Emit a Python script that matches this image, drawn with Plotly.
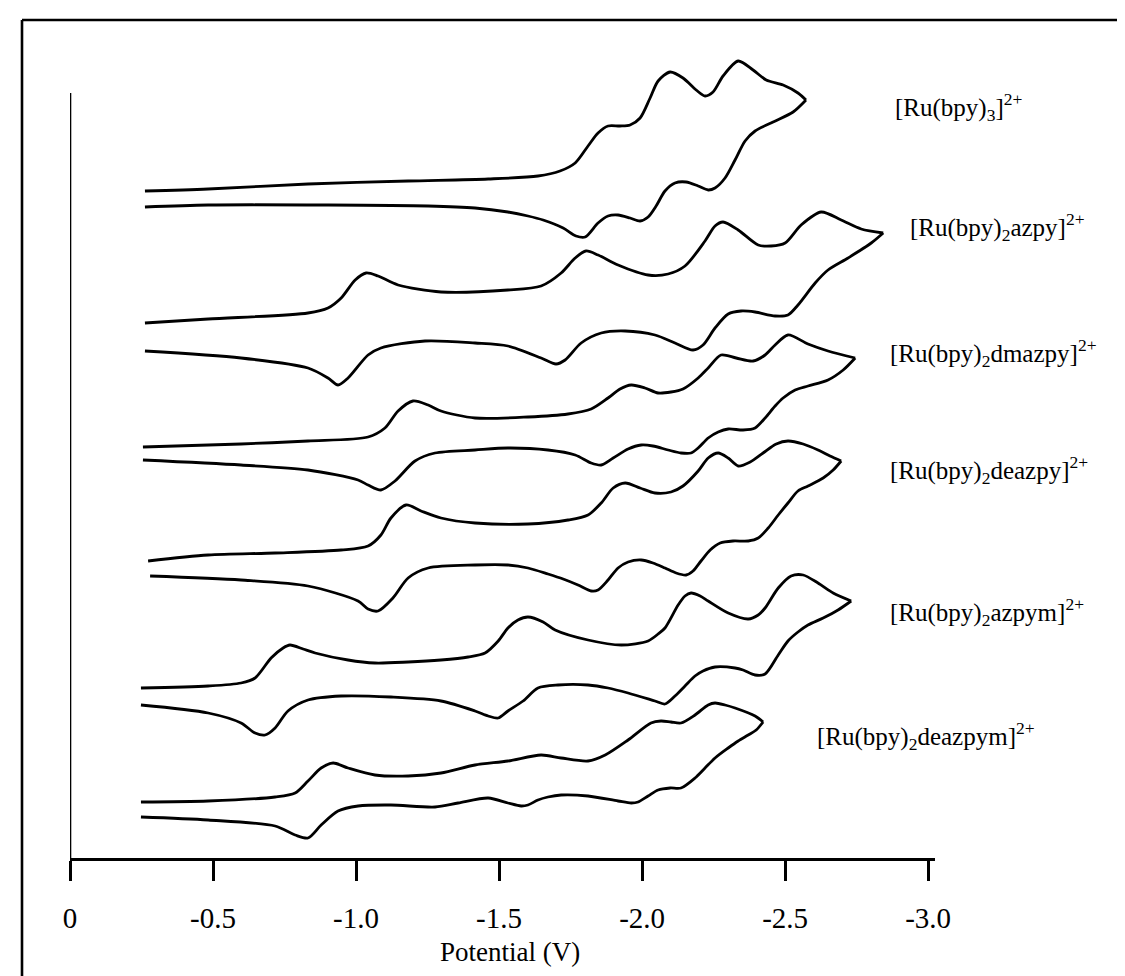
import plotly.graph_objects as go

# ---------------- data (potential in V, current in arbitrary units) ----------------
names = [
    "[Ru(bpy)<sub>3</sub>]<sup>2+</sup>",
    "[Ru(bpy)<sub>2</sub>azpy]<sup>2+</sup>",
    "[Ru(bpy)<sub>2</sub>dmazpy]<sup>2+</sup>",
    "[Ru(bpy)<sub>2</sub>deazpy]<sup>2+</sup>",
    "[Ru(bpy)<sub>2</sub>azpym]<sup>2+</sup>",
    "[Ru(bpy)<sub>2</sub>deazpym]<sup>2+</sup>",
]

# [Ru(bpy)3]2+
bpy3_fwd_E = [-0.262,-0.483,-0.832,-1.182,-1.462,-1.636,-1.713,-1.766,-1.811,-1.846,-1.881,-1.923,-1.958,-1.993,-2.028,-2.056,-2.098,-2.143,-2.189,-2.220,-2.248,-2.283,-2.336,-2.388,-2.434,-2.493,-2.545,-2.573]
bpy3_fwd_I = [66.7,66.9,67.4,67.7,67.9,68.2,68.7,69.5,71.2,72.5,73.2,73.2,73.3,74.0,76.0,77.7,78.6,78.0,76.8,76.2,76.6,78.2,79.7,78.8,77.8,77.3,76.5,75.8]
bpy3_rev_E = [-2.573,-2.528,-2.458,-2.395,-2.360,-2.325,-2.290,-2.255,-2.231,-2.196,-2.154,-2.115,-2.080,-2.049,-2.021,-1.993,-1.958,-1.916,-1.881,-1.846,-1.801,-1.769,-1.724,-1.654,-1.601,-1.531,-1.416,-1.252,-0.902,-0.483,-0.262]
bpy3_rev_I = [75.8,74.6,73.6,72.7,71.7,69.8,68.0,67.0,66.8,67.2,67.6,67.5,66.7,65.2,64.1,63.7,64.0,64.3,64.2,63.5,62.1,62.2,63.0,63.8,64.2,64.6,65.0,65.2,65.3,65.3,65.1]

# [Ru(bpy)2azpy]2+
azpy_fwd_E = [-0.262,-0.483,-0.832,-0.902,-0.948,-0.997,-1.035,-1.077,-1.147,-1.297,-1.531,-1.647,-1.717,-1.766,-1.804,-1.846,-1.916,-2.021,-2.091,-2.150,-2.220,-2.255,-2.283,-2.336,-2.406,-2.451,-2.500,-2.556,-2.626,-2.696,-2.766,-2.843]
azpy_fwd_I = [53.5,53.9,54.5,55.0,56.0,57.8,58.5,58.2,57.3,56.6,56.8,57.2,58.5,60.0,60.7,60.3,59.3,58.3,58.4,59.2,61.7,63.2,63.6,62.8,61.3,61.2,61.5,63.3,64.6,63.8,62.9,62.5]
azpy_rev_E = [-2.843,-2.801,-2.720,-2.650,-2.605,-2.545,-2.510,-2.465,-2.395,-2.346,-2.301,-2.255,-2.213,-2.178,-2.115,-2.045,-1.941,-1.857,-1.787,-1.731,-1.699,-1.647,-1.531,-1.416,-1.241,-1.087,-1.042,-0.972,-0.937,-0.902,-0.832,-0.598,-0.262]
azpy_rev_I = [62.5,61.5,60.0,58.8,57.5,55.3,54.3,54.2,54.6,54.7,54.4,53.0,51.3,50.8,51.5,52.3,52.7,52.5,51.5,49.8,49.4,50.0,51.2,51.5,51.7,51.0,50.3,48.0,47.3,48.0,49.0,50.0,50.7]

# [Ru(bpy)2dmazpy]2+
dmazpy_fwd_E = [-0.255,-0.598,-0.832,-1.042,-1.101,-1.147,-1.199,-1.252,-1.297,-1.416,-1.601,-1.741,-1.822,-1.881,-1.923,-1.962,-2.010,-2.056,-2.101,-2.143,-2.196,-2.231,-2.276,-2.329,-2.388,-2.430,-2.465,-2.510,-2.580,-2.650,-2.745]
dmazpy_fwd_I = [41.1,41.4,41.7,42.1,43.0,44.7,45.7,45.3,44.7,44.0,44.1,44.4,44.9,46.0,46.9,47.3,47.0,46.5,46.6,46.9,48.0,49.0,50.3,50.0,49.7,50.3,51.3,52.3,51.4,50.7,50.0]
dmazpy_rev_E = [-2.745,-2.703,-2.650,-2.580,-2.535,-2.493,-2.465,-2.430,-2.395,-2.353,-2.301,-2.266,-2.231,-2.196,-2.171,-2.136,-2.091,-2.038,-1.997,-1.951,-1.899,-1.857,-1.822,-1.766,-1.671,-1.531,-1.416,-1.276,-1.206,-1.136,-1.087,-1.042,-1.007,-0.832,-0.598,-0.255]
dmazpy_rev_I = [50.0,48.8,47.8,47.2,46.8,46.0,45.2,44.0,43.0,42.8,42.9,42.6,42.0,41.0,40.5,40.5,40.8,41.2,41.3,40.9,40.0,39.3,39.5,40.3,40.8,41.0,40.8,40.5,39.7,37.7,36.8,37.3,37.8,38.8,39.3,39.8]

# [Ru(bpy)2deazpy]2+
deazpy_fwd_E = [-0.273,-0.483,-0.717,-0.948,-1.042,-1.087,-1.122,-1.175,-1.227,-1.297,-1.416,-1.601,-1.741,-1.811,-1.857,-1.899,-1.941,-1.993,-2.045,-2.101,-2.143,-2.196,-2.231,-2.266,-2.301,-2.336,-2.378,-2.423,-2.469,-2.510,-2.563,-2.615,-2.657,-2.696]
deazpy_fwd_I = [29.7,30.3,30.5,30.8,31.2,32.3,34.0,35.3,34.7,34.0,33.5,33.4,33.8,34.3,35.5,37.0,37.5,37.0,36.5,36.6,37.2,38.7,40.0,40.5,40.0,39.2,39.6,40.5,41.4,41.7,41.4,40.8,40.2,39.7]
deazpy_rev_E = [-2.696,-2.668,-2.633,-2.580,-2.545,-2.510,-2.476,-2.441,-2.406,-2.371,-2.318,-2.273,-2.238,-2.206,-2.178,-2.154,-2.119,-2.080,-2.038,-1.997,-1.951,-1.916,-1.881,-1.846,-1.822,-1.776,-1.724,-1.671,-1.601,-1.531,-1.416,-1.252,-1.182,-1.129,-1.077,-1.042,-1.007,-0.832,-0.598,-0.280]
deazpy_rev_I = [39.7,38.8,38.0,37.2,36.7,35.5,34.3,33.0,32.0,31.7,31.7,31.5,30.8,29.7,28.7,28.3,28.5,29.0,29.5,29.8,29.6,29.0,27.8,26.8,26.7,27.3,27.9,28.4,29.0,29.3,29.3,29.0,28.0,26.0,24.7,24.9,25.7,27.2,27.8,28.2]

# [Ru(bpy)2azpym]2+
azpym_fwd_E = [-0.248,-0.483,-0.598,-0.647,-0.703,-0.745,-0.769,-0.815,-0.857,-0.972,-1.066,-1.182,-1.297,-1.392,-1.451,-1.497,-1.531,-1.566,-1.601,-1.654,-1.696,-1.811,-1.927,-2.021,-2.056,-2.080,-2.126,-2.150,-2.171,-2.203,-2.231,-2.301,-2.371,-2.406,-2.430,-2.476,-2.521,-2.563,-2.615,-2.668,-2.731]
azpym_fwd_I = [17.0,17.2,17.5,18.0,20.0,21.0,21.3,20.9,20.5,19.8,19.5,19.6,19.8,20.1,20.5,21.7,23.0,23.8,24.1,23.6,22.8,21.8,21.3,21.7,22.4,23.0,25.3,26.2,26.5,26.2,25.7,24.5,23.9,24.3,25.0,27.0,28.2,28.3,27.5,26.5,25.7]
azpym_rev_E = [-2.731,-2.685,-2.633,-2.580,-2.545,-2.510,-2.476,-2.430,-2.395,-2.353,-2.325,-2.255,-2.213,-2.185,-2.150,-2.115,-2.080,-2.045,-1.951,-1.881,-1.811,-1.706,-1.636,-1.584,-1.531,-1.497,-1.462,-1.416,-1.297,-1.122,-0.948,-0.832,-0.762,-0.717,-0.682,-0.647,-0.598,-0.483,-0.248]
azpym_rev_I = [25.7,24.8,24.0,23.3,22.6,21.7,20.3,18.4,18.3,18.8,19.0,19.1,18.7,18.2,17.2,16.2,15.4,15.7,16.5,17.0,17.3,17.3,17.0,15.7,14.7,14.0,14.2,14.7,15.7,16.1,16.2,15.8,14.7,13.0,12.3,12.5,13.5,14.5,15.3]

# [Ru(bpy)2deazpym]2+
deazpym_fwd_E = [-0.248,-0.483,-0.717,-0.787,-0.832,-0.878,-0.920,-0.972,-1.066,-1.182,-1.297,-1.416,-1.531,-1.647,-1.717,-1.811,-1.871,-1.951,-2.031,-2.066,-2.101,-2.136,-2.185,-2.231,-2.255,-2.290,-2.325,-2.395,-2.423]
deazpym_fwd_I = [5.6,5.7,6.1,6.5,7.7,9.0,9.5,9.0,8.3,8.2,8.5,9.3,9.7,10.3,10.0,9.7,10.3,11.8,13.5,13.7,13.6,13.5,14.3,15.3,15.5,15.3,15.0,14.2,13.6]
deazpym_rev_E = [-2.423,-2.399,-2.371,-2.336,-2.301,-2.255,-2.220,-2.185,-2.136,-2.098,-2.056,-2.021,-1.986,-1.962,-1.916,-1.811,-1.717,-1.671,-1.636,-1.601,-1.577,-1.531,-1.462,-1.357,-1.276,-1.122,-1.007,-0.937,-0.878,-0.832,-0.787,-0.717,-0.483,-0.248]
deazpym_rev_I = [13.6,12.8,12.3,11.7,11.0,10.0,9.0,8.0,7.0,7.0,6.8,6.2,5.6,5.5,5.7,6.2,6.3,6.1,5.8,5.3,5.2,5.5,6.0,5.5,5.1,5.3,5.2,4.7,3.3,2.0,2.3,3.2,3.8,4.1]

tick_vals = [0, -0.5, -1.0, -1.5, -2.0, -2.5, -3.0]
tick_text = ["0", "-0.5", "-1.0", "-1.5", "-2.0", "-2.5", "-3.0"]
x_title = "Potential (V)"

curves = [
    (bpy3_fwd_E, bpy3_fwd_I, bpy3_rev_E, bpy3_rev_I),
    (azpy_fwd_E, azpy_fwd_I, azpy_rev_E, azpy_rev_I),
    (dmazpy_fwd_E, dmazpy_fwd_I, dmazpy_rev_E, dmazpy_rev_I),
    (deazpy_fwd_E, deazpy_fwd_I, deazpy_rev_E, deazpy_rev_I),
    (azpym_fwd_E, azpym_fwd_I, azpym_rev_E, azpym_rev_I),
    (deazpym_fwd_E, deazpym_fwd_I, deazpym_rev_E, deazpym_rev_I),
]

# ---------------- layout geometry ----------------
W, H = 1125, 976
ML, MR, MT, MB = 62, 198, 40, 126
PW, PH = W - ML - MR, H - MT - MB
FONT = "Liberation Serif, Times New Roman, serif"


def px(xp):
    return (xp - ML) / PW


def py(yp):
    return (H - MB - yp) / PH


fig = go.Figure()
line = dict(color="black", width=2.8, shape="spline", smoothing=0.8)
for name, (fe, fi, re_, ri) in zip(names, curves):
    fig.add_trace(go.Scatter(x=fe, y=fi, mode="lines", line=line, name=name,
                             showlegend=False, hoverinfo="skip"))
    fig.add_trace(go.Scatter(x=re_, y=ri, mode="lines", line=line, name=name,
                             showlegend=False, hoverinfo="skip"))

# compound labels (left edge px, centre py)
label_pos = [(885, 99), (900, 219), (880, 345), (880, 462), (880, 604), (807, 728)]
for name, (lx, ly) in zip(names, label_pos):
    fig.add_annotation(x=px(lx), y=py(ly), xref="paper", yref="paper", text=name,
                       showarrow=False, xanchor="left", yanchor="middle",
                       font=dict(family=FONT, size=25, color="black"))

# axis title
fig.add_annotation(x=px(502), y=py(944), xref="paper", yref="paper", text=x_title,
                   showarrow=False, xanchor="center", yanchor="middle",
                   font=dict(family=FONT, size=27, color="black"))

# y-axis line (no ticks)
fig.add_shape(type="line", xref="x", yref="paper", x0=0, x1=0, y0=0, y1=py(85),
              line=dict(color="black", width=2.6))

# outer frame (scanned figure border)
frame = dict(color="black", width=2.6)
fig.add_shape(type="line", xref="paper", yref="paper", x0=px(14), x1=px(14),
              y0=py(12), y1=py(976), line=frame)
fig.add_shape(type="line", xref="paper", yref="paper", x0=px(14), x1=px(1125),
              y0=py(12), y1=py(12), line=frame)
fig.add_shape(type="line", xref="paper", yref="paper", x0=px(1123), x1=px(1123),
              y0=py(597), y1=py(976), line=frame)

fig.update_layout(
    width=W, height=H,
    margin=dict(l=ML, r=MR, t=MT, b=MB, pad=0),
    paper_bgcolor="white", plot_bgcolor="white",
    showlegend=False,
    xaxis=dict(range=[0, -3.024], showline=True, linecolor="black", linewidth=2.6,
               ticks="outside", ticklen=20, tickwidth=2.6, tickcolor="black",
               tickvals=tick_vals, ticktext=tick_text, ticklabelstandoff=12,
               tickfont=dict(family=FONT, size=29, color="black"),
               showgrid=False, zeroline=False),
    yaxis=dict(range=[0, 81], visible=False, showgrid=False, zeroline=False),
)

fig.write_html("out.html")
